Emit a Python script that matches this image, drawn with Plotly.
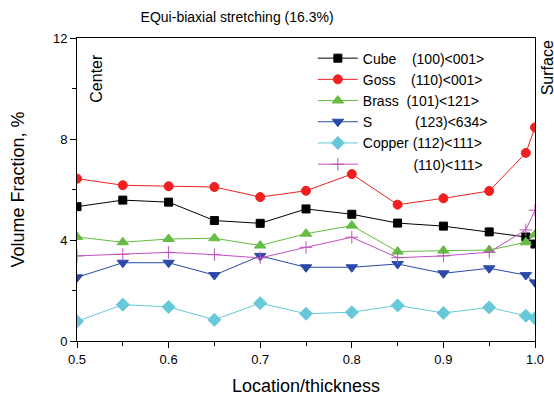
import plotly.graph_objects as go

x = [0.5, 0.55, 0.6, 0.65, 0.7, 0.75, 0.8, 0.85, 0.9, 0.95, 0.99, 1.0]
cube = [5.32, 5.58, 5.50, 4.77, 4.66, 5.23, 5.02, 4.67, 4.55, 4.32, 4.12, 3.84]
goss = [6.43, 6.17, 6.13, 6.10, 5.70, 5.95, 6.61, 5.40, 5.65, 5.94, 7.45, 8.46]
brass = [4.12, 3.91, 4.04, 4.07, 3.78, 4.25, 4.57, 3.54, 3.58, 3.60, 3.91, 4.22]
s_comp = [2.52, 3.10, 3.10, 2.61, 3.37, 2.92, 2.92, 3.05, 2.68, 2.88, 2.61, 2.32]
copper = [0.78, 1.44, 1.35, 0.84, 1.50, 1.08, 1.14, 1.41, 1.11, 1.33, 1.00, 0.90]
c110_111 = [3.37, 3.43, 3.51, 3.42, 3.29, 3.71, 4.11, 3.30, 3.37, 3.52, 4.40, 5.18]

nb = "\u00a0"
series = [
    ("Cube" + nb * 4 + "(100)<001>", cube, "#000000", "square", 8),
    ("Goss" + nb * 4 + "(110)<001>", goss, "#f02020", "circle", 9),
    ("Brass" + nb * 2 + "(101)<121>", brass, "#66bb44", "triangle-up", 10),
    ("S" + nb * 11 + "(123)<634>", s_comp, "#2a4aaa", "triangle-down", 10),
    ("Copper" + nb + "(112)<111>", copper, "#66c8d8", "diamond", 10),
    (nb * 13 + "(110)<111>", c110_111, "#c050c0", "cross-thin", 9),
]

fig = go.Figure()
for name, vals, col, sym, sz in series:
    fig.add_trace(go.Scatter(
        x=x, y=vals, name=name, mode="lines+markers",
        line=dict(color=col, width=1),
        marker=dict(symbol=sym, size=sz, color=col,
                    line=dict(color=col, width=1)),
    ))

font = "Liberation Sans, Arial, sans-serif"
fig.update_layout(
    width=554, height=396,
    margin=dict(l=77, r=19, t=38, b=55),
    paper_bgcolor="white", plot_bgcolor="white",
    font=dict(family=font, size=13, color="black"),
    title=dict(text="EQui-biaxial stretching (16.3%)", x=0.428, xanchor="center",
               y=0.957, yanchor="middle", font=dict(size=14)),
    showlegend=True,
    legend=dict(x=0.515, y=0.985, xanchor="left", yanchor="top",
                bgcolor="rgba(0,0,0,0)", font=dict(size=14),
                tracegroupgap=0, itemwidth=40),
    xaxis=dict(range=[0.5, 1.0], tickvals=[0.5, 0.6, 0.7, 0.8, 0.9, 1.0],
               ticktext=["0.5", "0.6", "0.7", "0.8", "0.9", "1.0"],
               ticks="outside", ticklen=6, tickcolor="black",
               minor=dict(tickvals=[0.55, 0.65, 0.75, 0.85, 0.95], ticks="outside",
                          ticklen=4, tickcolor="black"),
               showline=True, linecolor="black", linewidth=1, mirror=True,
               showgrid=False, zeroline=False, automargin=False,
               title=dict(text="Location/thickness", font=dict(size=18), standoff=13),
               tickfont=dict(size=13)),
    yaxis=dict(range=[0, 12], tickvals=[0, 4, 8, 12],
               ticks="outside", ticklen=6, tickcolor="black",
               minor=dict(tickvals=[2, 6, 10], ticks="outside", ticklen=4,
                          tickcolor="black"),
               showline=True, linecolor="black", linewidth=1, mirror=True,
               showgrid=False, zeroline=False, automargin=False,
               title=dict(text="Volume Fraction, %", font=dict(size=18), standoff=23),
               tickfont=dict(size=13)),
)

fig.add_annotation(text="Center", xref="paper", yref="paper", x=0.043, y=0.868,
                   textangle=-90, showarrow=False, font=dict(size=16),
                   xanchor="center", yanchor="middle")
fig.add_annotation(text="Surface", xref="paper", yref="paper", x=1.0, y=0.90,
                   xshift=12, textangle=-90, showarrow=False, font=dict(size=16),
                   xanchor="center", yanchor="middle")

fig.write_html("out.html", config={"displayModeBar": False},
               post_script="document.body.style.margin='0px';")
